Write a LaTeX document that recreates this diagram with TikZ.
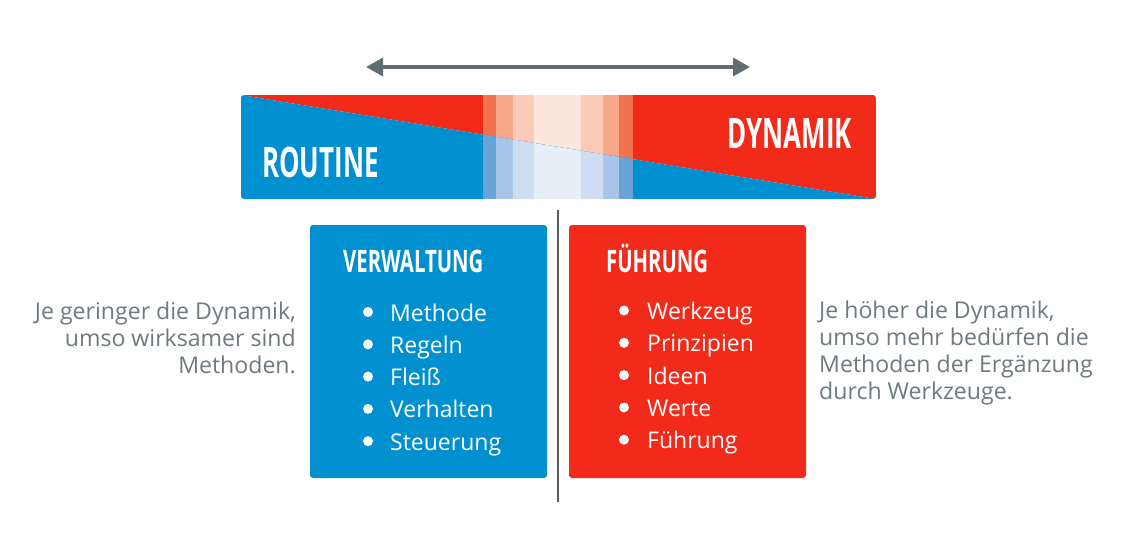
\documentclass[tikz,border=0pt]{standalone}
\usepackage{fontspec}
\setmainfont{Open Sans}
\newfontfamily\headfont[FakeStretch=0.655]{Open Sans}
\newfontfamily\bigheadfont[FakeStretch=0.617]{Open Sans}
\usetikzlibrary{arrows.meta}
\definecolor{dblue}{HTML}{0090CF}
\definecolor{dred}{HTML}{F22A1A}
\definecolor{tgray}{HTML}{6F7A7E}
\definecolor{agray}{HTML}{5E6E72}
\definecolor{sgray}{HTML}{5A5A5A}
\definecolor{rA}{HTML}{F0724F}
\definecolor{rB}{HTML}{F7A88A}
\definecolor{rC}{HTML}{FBCBB8}
\definecolor{rD}{HTML}{FDE6DC}
\definecolor{bA}{HTML}{6AA3D8}
\definecolor{bB}{HTML}{A7C5E7}
\definecolor{bC}{HTML}{CEDDF1}
\definecolor{bD}{HTML}{E6EEF8}
\begin{document}
\begin{tikzpicture}[x=1pt,y=-1pt,
  para/.style={text=tgray,font=\fontsize{23.1}{27}\selectfont,inner sep=0},
  item/.style={text=white,font=\fontsize{23}{32}\selectfont,inner sep=0,anchor=base west},
  dot/.style={circle,fill=white,minimum size=10pt,inner sep=0},
  head/.style={text=white,font=\headfont\bfseries\fontsize{31}{31}\selectfont,inner sep=0,anchor=base west},
  bighead/.style={text=white,font=\bigheadfont\bfseries\fontsize{42}{42}\selectfont,inner sep=0},
  box/.style={rounded corners=3pt}]
\useasboundingbox[fill=white] (0,0) rectangle (1122,538);

% arrow
\coordinate (aL) at (366,67);
\coordinate (aR) at (750,67);
\draw[agray,line width=3.5pt,{Triangle[length=17pt,width=18pt]}-{Triangle[length=17pt,width=18pt]}] (aL) -- (aR);

% bar
\begin{scope}
\clip[rounded corners=3pt] (241,95) rectangle (876,199);
\begin{scope}
\clip (241,95) -- (876,95) -- (876,199) -- cycle;
\fill[dred] (241,95) rectangle (876,199);
\fill[rA] (483,95) rectangle (496,199);
\fill[rB] (496,95) rectangle (513,199);
\fill[rC] (513,95) rectangle (534,199);
\fill[rD] (534,95) rectangle (581,199);
\fill[rC] (581,95) rectangle (603,199);
\fill[rB] (603,95) rectangle (619,199);
\fill[rA] (619,95) rectangle (633,199);
\end{scope}
\begin{scope}
\clip (241,95) -- (876,199) -- (241,199) -- cycle;
\fill[dblue] (241,95) rectangle (876,199);
\fill[bA] (483,95) rectangle (496,199);
\fill[bB] (496,95) rectangle (513,199);
\fill[bC] (513,95) rectangle (534,199);
\fill[bD] (534,95) rectangle (581,199);
\fill[bC] (581,95) rectangle (603,199);
\fill[bB] (603,95) rectangle (619,199);
\fill[bA] (619,95) rectangle (633,199);
\end{scope}
\end{scope}
\node[bighead,anchor=base west] (routine) at (262,177) {ROUTINE};
\node[bighead,anchor=base east] (dynamik) at (852,148) {DYNAMIK};

% separator
\coordinate (sT) at (558,210);
\coordinate (sB) at (558,502);
\draw[sgray,line width=2pt] (sT) -- (sB);

% boxes
\fill[dblue,box] (310,225) rectangle (547,478);
\fill[dred,box] (569,225) rectangle (806,478);

\node[head] (verw) at (343,272) {VERWALTUNG};
\node[head] (fuehr) at (606,272) {FÜHRUNG};

% left list
\foreach \t [count=\i from 0] in {Methode,Regeln,Fleiß,Verhalten,Steuerung}{
  \node[dot] (ld\i) at (368,{312+32.3*\i}) {};
  \node[item] (lt\i) at (390,{321+32.3*\i}) {\t};
}
% right list
\foreach \t [count=\i from 0] in {Werkzeug,Prinzipien,Ideen,Werte,Führung}{
  \node[dot] (rd\i) at (624,{310.5+32.3*\i}) {};
  \node[item] (rt\i) at (647,{319.5+32.3*\i}) {\t};
}

% side texts
\node[para,anchor=base east] (l1) at (296,319) {Je geringer die Dynamik,};
\node[para,anchor=base east] (l2) at (296,346) {umso wirksamer sind};
\node[para,anchor=base east] (l3) at (296,373) {Methoden.};

\node[para,anchor=base west] (r1) at (819,318) {Je höher die Dynamik,};
\node[para,anchor=base west] (r2) at (819,345) {umso mehr bedürfen die};
\node[para,anchor=base west] (r3) at (819,372) {Methoden der Ergänzung};
\node[para,anchor=base west] (r4) at (819,399) {durch Werkzeuge.};
\end{tikzpicture}
\end{document}
